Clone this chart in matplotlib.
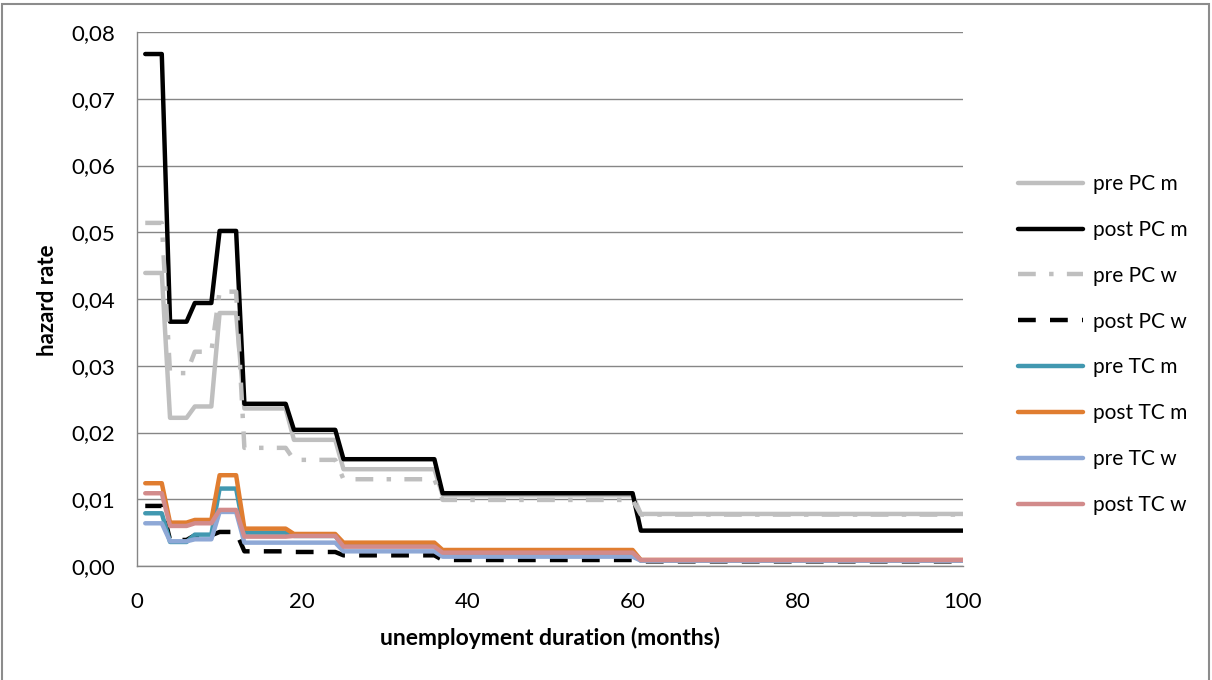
import matplotlib
matplotlib.use("Agg")
import matplotlib.pyplot as plt
from matplotlib.patches import Rectangle
from matplotlib.ticker import FuncFormatter

# ---- data (plateau edges, months) ----
months = [1, 3, 4, 6, 7, 9, 10, 12, 13, 18, 19, 24, 25, 36, 37, 60, 61, 100]

pre_pc_m  = [0.0439, 0.0439, 0.0222, 0.0222, 0.0239, 0.0239, 0.0379, 0.0379, 0.0236, 0.0236,
             0.0189, 0.0189, 0.0145, 0.0145, 0.0106, 0.0106, 0.0078, 0.0078]
post_pc_m = [0.0767, 0.0767, 0.0366, 0.0366, 0.0394, 0.0394, 0.0502, 0.0502, 0.0243, 0.0243,
             0.0204, 0.0204, 0.0160, 0.0160, 0.0109, 0.0109, 0.0053, 0.0053]
pre_pc_w  = [0.0514, 0.0514, 0.0289, 0.0289, 0.0321, 0.0321, 0.0411, 0.0411, 0.0177, 0.0177,
             0.0159, 0.0159, 0.0130, 0.0130, 0.0099, 0.0099, 0.0077, 0.0077]
post_pc_w = [0.0090, 0.0090, 0.0039, 0.0039, 0.0046, 0.0046, 0.0051, 0.0051, 0.0022, 0.0022,
             0.0021, 0.0021, 0.0016, 0.0016, 0.0009, 0.0009, 0.0007, 0.0007]
pre_tc_m  = [0.0079, 0.0079, 0.0036, 0.0036, 0.0047, 0.0047, 0.0116, 0.0116, 0.0050, 0.0050,
             0.0045, 0.0045, 0.0030, 0.0030, 0.0020, 0.0020, 0.0008, 0.0008]
post_tc_m = [0.0124, 0.0124, 0.0065, 0.0065, 0.0069, 0.0069, 0.0136, 0.0136, 0.0056, 0.0056,
             0.0048, 0.0048, 0.0035, 0.0035, 0.0024, 0.0024, 0.0009, 0.0009]
pre_tc_w  = [0.0064, 0.0064, 0.0037, 0.0037, 0.0040, 0.0040, 0.0081, 0.0081, 0.0035, 0.0035,
             0.0035, 0.0035, 0.0022, 0.0022, 0.0014, 0.0014, 0.0008, 0.0008]
post_tc_w = [0.0109, 0.0109, 0.0060, 0.0060, 0.0064, 0.0064, 0.0084, 0.0084, 0.0044, 0.0044,
             0.0045, 0.0045, 0.0029, 0.0029, 0.0020, 0.0020, 0.0009, 0.0009]

labels = ["pre PC m", "post PC m", "pre PC w", "post PC w",
          "pre TC m", "post TC m", "pre TC w", "post TC w"]
y_ticks = [0.00, 0.01, 0.02, 0.03, 0.04, 0.05, 0.06, 0.07, 0.08]
x_ticks = [0, 20, 40, 60, 80, 100]

series = [pre_pc_m, post_pc_m, pre_pc_w, post_pc_w, pre_tc_m, post_tc_m, pre_tc_w, post_tc_w]
colors = ["#BFBFBF", "#000000", "#BFBFBF", "#000000",
          "#4198B0", "#E07D30", "#8EA8D6", "#D28B8B"]
styles = ["solid", "solid", (0, (4, 3, 1, 3)), (0, (4, 3.2)),
          "solid", "solid", "solid", "solid"]

plt.rcParams['font.family'] = ['Lato', 'DejaVu Sans']

fig = plt.figure(figsize=(12.12, 6.8), dpi=100)
ax = fig.add_axes([137/1212, 1 - 566/680, (963-137)/1212, (566-32)/680])

for vals, c, ls, lab in zip(series, colors, styles, labels):
    ax.plot(months, vals, color=c, lw=3.2, linestyle=ls, label=lab,
            solid_capstyle='round', solid_joinstyle='round', dash_capstyle='butt')

ax.set_xlim(0, 100)
ax.set_ylim(0, 0.08)
ax.set_xticks(x_ticks)
ax.set_yticks(y_ticks)
ax.yaxis.set_major_formatter(FuncFormatter(lambda v, p: f"{v:.2f}".replace(".", ",")))
ax.grid(axis='y', color='#868686', lw=1.0)
ax.set_axisbelow(True)
for s in ['top', 'right']:
    ax.spines[s].set_visible(False)
for s in ['left', 'bottom']:
    ax.spines[s].set_color('#868686')
    ax.spines[s].set_linewidth(1.0)
ax.tick_params(axis='y', length=0, pad=16, labelsize=16)
ax.tick_params(axis='x', length=0, pad=19, labelsize=16)

fig.text(48/1212, 1 - 300/680, "hazard rate", rotation=90, ha='center', va='center',
         fontsize=16, fontweight='bold')
fig.text(550/1212, 1 - 638/680, "unemployment duration (months)", ha='center', va='center',
         fontsize=16.5, fontweight='bold')

leg = fig.legend(loc='center left', bbox_to_anchor=(1018/1212, 1 - 344.5/680),
                 frameon=False, fontsize=15, handlelength=3.12, handletextpad=0.5,
                 labelspacing=1.24, borderpad=0, borderaxespad=0)

fig.patches.append(Rectangle((2/1212, -0.05), (1209-2)/1212, 1.05 - 3.5/680,
                             transform=fig.transFigure, fill=False,
                             edgecolor='#8C8C8C', lw=1.5))

fig.savefig("out.png", dpi=100)
